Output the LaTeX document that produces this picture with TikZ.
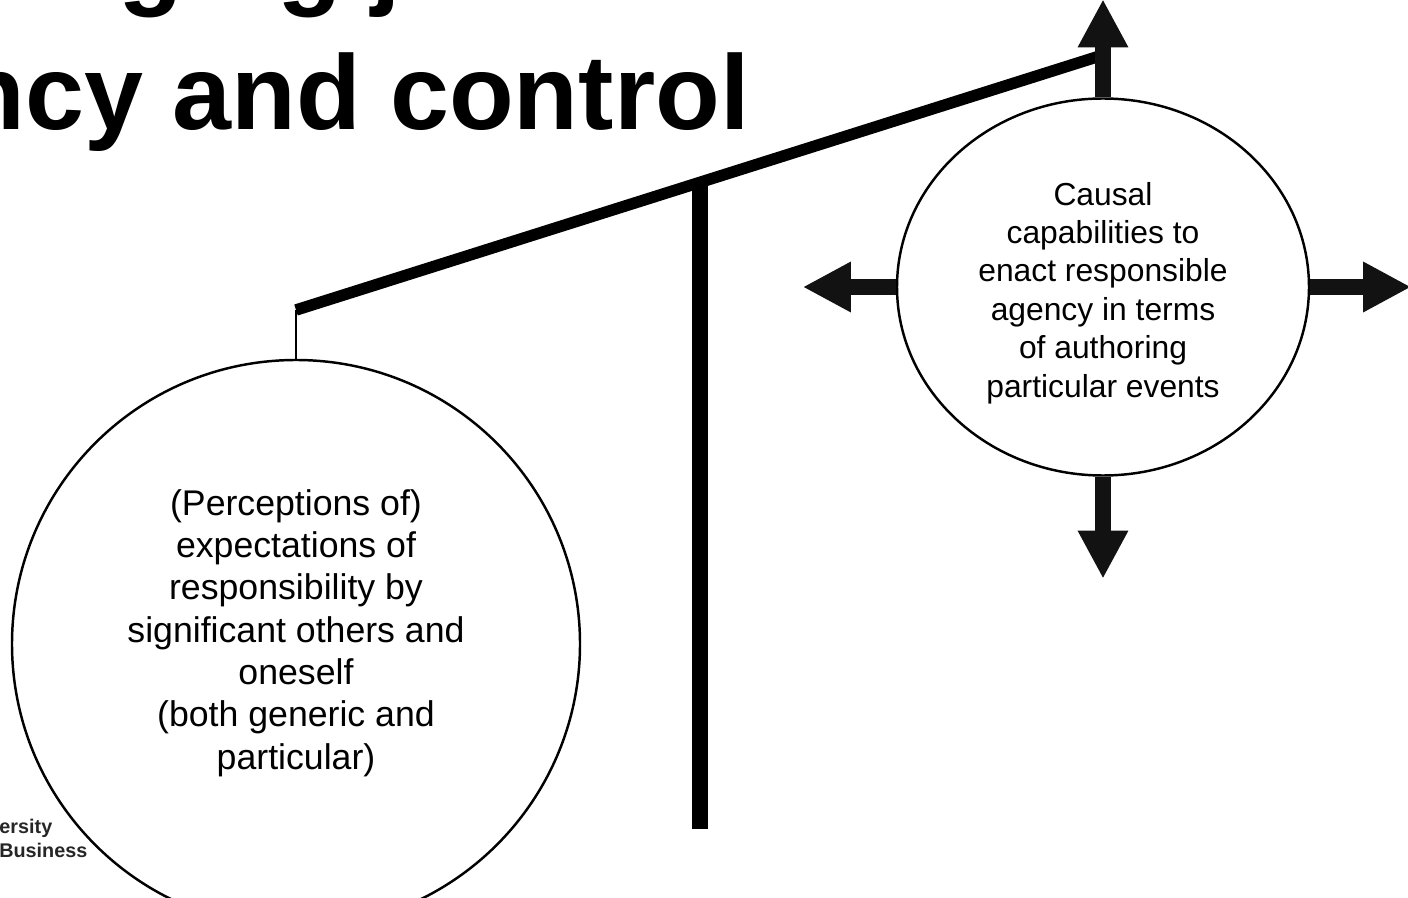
\documentclass[tikz,border=0pt]{standalone}
\usepackage{fontspec}
\setmainfont{Liberation Sans}
\usetikzlibrary{arrows.meta,shapes.geometric,calc}
\tikzset{
	beam/.style={line width=0.115cm},
	post/.style={line width=0.16cm},
	blockarrow/.style={line width=0.16cm, draw=black!93, -{Triangle[width=0.47cm,length=0.48cm]}},
	bubble/.style={draw, line width=0.7pt, inner sep=0pt, fill=white},
	titletext/.style={anchor=base west, inner sep=0pt, font=\fontsize{30.16}{36}\selectfont\bfseries},
	logotext/.style={anchor=base east, inner sep=0pt, text=black!85, font=\fontsize{5.63}{6.8}\selectfont\bfseries}
}

\begin{document}
\begin{tikzpicture}
	\useasboundingbox (0,0) rectangle (14.08,8.97);
	\clip (0,0) rectangle (14.08,8.97);
%
	% title, cut by the page
	\node[titletext] (titleA) at (-1.53,9.01) {Managing joint};
	\node[titletext] (titleB) at (-2.23,7.67) {agency and control};
	% logo
	\node[logotext] (logoA) at (0.53,0.64) {University};
	\node[logotext] (logoB) at (0.88,0.40) {Business};
%
	\coordinate (lend) at (2.96,5.87);
	\coordinate (rend) at (11.03,8.42);
	\coordinate (pivot) at (7.00,7.15);
	\coordinate (foot) at (7.00,0.68);
%
	% balance
	\draw[post] (foot) -- (pivot);
	\draw[beam] (lend) -- (rend);
%
	% left pan
	\node[bubble, circle, minimum size=5.68cm] (expect) at (2.96,2.53) {};
	\node[align=center, inner sep=0pt, font=\fontsize{10.15}{12.04}\selectfont] (expectText) at (2.96,2.64) {(Perceptions of)\\expectations of\\responsibility by\\significant others and\\oneself\\(both generic and\\particular)};
	\draw[line width=0.4pt] (lend) -- (expect.north);
%
	% right pan
	\node[bubble, ellipse, minimum width=4.12cm, minimum height=3.77cm] (cause) at (11.03,6.10) {};
	\node[align=center, inner sep=0pt, font=\fontsize{9.05}{10.95}\selectfont] (causeText) at (11.03,6.04) {Causal\\capabilities to\\enact responsible\\agency in terms\\of authoring\\particular events};
%
	\draw[blockarrow] (cause.north) -- ++(0,0.98);
	\draw[blockarrow] (cause.south) -- ++(0,-1.02);
	\draw[blockarrow] (cause.west) -- ++(-0.93,0);
	\draw[blockarrow] (cause.east) -- ++(1.01,0);
\end{tikzpicture}
\end{document}
